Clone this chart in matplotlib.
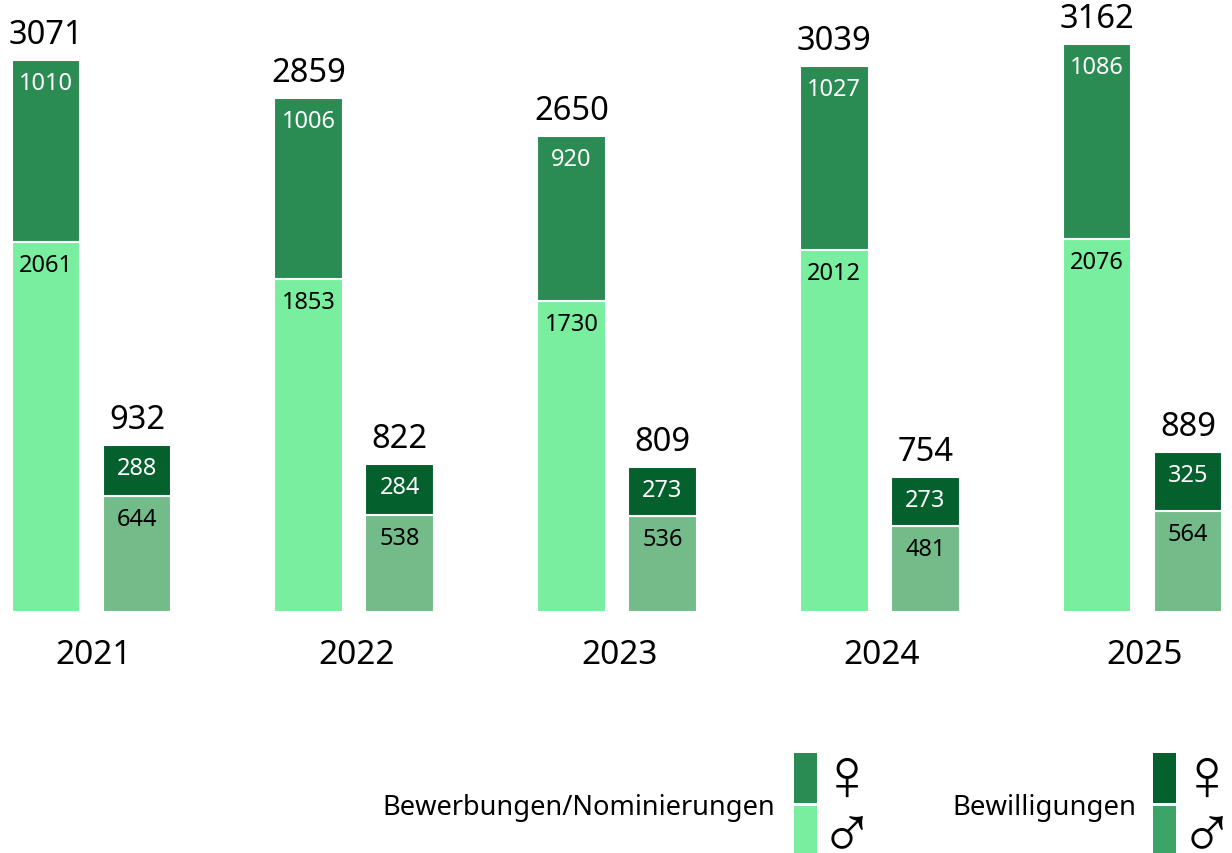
import numpy as np
import matplotlib
matplotlib.use("Agg")
import matplotlib.pyplot as plt
from matplotlib.patches import Rectangle

plt.rcParams['font.family'] = ['Noto Sans', 'DejaVu Sans']

years = ['2021', '2022', '2023', '2024', '2025']
bew_w = np.array([1010, 1006, 920, 1027, 1086])
bew_m = np.array([2061, 1853, 1730, 2012, 2076])
bewi_w = np.array([288, 284, 273, 273, 325])
bewi_m = np.array([644, 538, 536, 481, 564])

# colours
c_bew_w = '#2A8C53'
c_bew_m = '#78EE9E'
c_bewi_w = '#04602C'
c_bewi_m = '#73BC89'
c_bewi_m_legend = '#3DA467'

W, H = 1232, 854
fig = plt.figure(figsize=(W / 100, H / 100), dpi=100)

# axes run over the full width, baseline at pixel row 613
ax = fig.add_axes([0, (H - 613) / H, 1, 613 / H])
ax.set_xlim(-91.5 / 262.75, (W - 91.5) / 262.75)
ax.set_ylim(0, 613 / 0.1797)
ax.patch.set_alpha(0)
for s in ax.spines.values():
    s.set_visible(False)

x = np.arange(len(years))
width = 0.262
off = 0.173


def px(n):
    return n * 0.72


def stacked(xs, low, high, c_low, c_high):
    ax.bar(xs, low, width, color=c_low, edgecolor='white', linewidth=1.5)
    ax.bar(xs, high, width, bottom=low, color=c_high, edgecolor='white', linewidth=1.5)
    for i in range(len(xs)):
        ax.annotate(str(low[i]), (xs[i], low[i]), xytext=(0, -px(23)), textcoords='offset points',
                    ha='center', va='center', fontsize=17, color='black')
        ax.annotate(str(high[i]), (xs[i], low[i] + high[i]), xytext=(0, -px(23)), textcoords='offset points',
                    ha='center', va='center', fontsize=17, color='white')
        ax.annotate(str(low[i] + high[i]), (xs[i], low[i] + high[i]), xytext=(0, px(17)),
                    textcoords='offset points', ha='center', va='baseline', fontsize=23.5,
                    color='black', annotation_clip=False)


stacked(x - off, bew_m, bew_w, c_bew_m, c_bew_w)
stacked(x + off, bewi_m, bewi_w, c_bewi_m, c_bewi_w)

ax.set_xticks(x + 0.008)
ax.set_xticklabels(years, fontsize=24)
ax.tick_params(axis='x', length=0, pad=px(26))
ax.set_yticks([])


# legend, placed by pixel position
def legend_box(left, top, bottom, color):
    fig.add_artist(Rectangle((left / W, 1 - bottom / H), 23 / W, (bottom - top) / H,
                             transform=fig.transFigure, facecolor=color, edgecolor='none'))


legend_box(794, 754, 804, c_bew_w)
legend_box(794, 807, 854, c_bew_m)
legend_box(1153, 754, 804, c_bewi_w)
legend_box(1153, 807, 854, c_bewi_m_legend)

fig.text(775 / W, 1 - 808 / H, 'Bewerbungen/Nominierungen', ha='right', va='center', fontsize=19.6)
fig.text(1136 / W, 1 - 808 / H, 'Bewilligungen', ha='right', va='center', fontsize=19.8)

# the text boxes of these big glyphs are taller than the ink
for cx in (847, 1207):
    fig.text(cx / W, 1 - 780 / H, '\u2640', ha='center', va='center', fontsize=54, family='Liberation Sans')
    fig.text(cx / W, 1 - 838 / H, '\u2642', ha='center', va='center', fontsize=54, family='Liberation Sans')

fig.savefig('out.png', dpi=100)
